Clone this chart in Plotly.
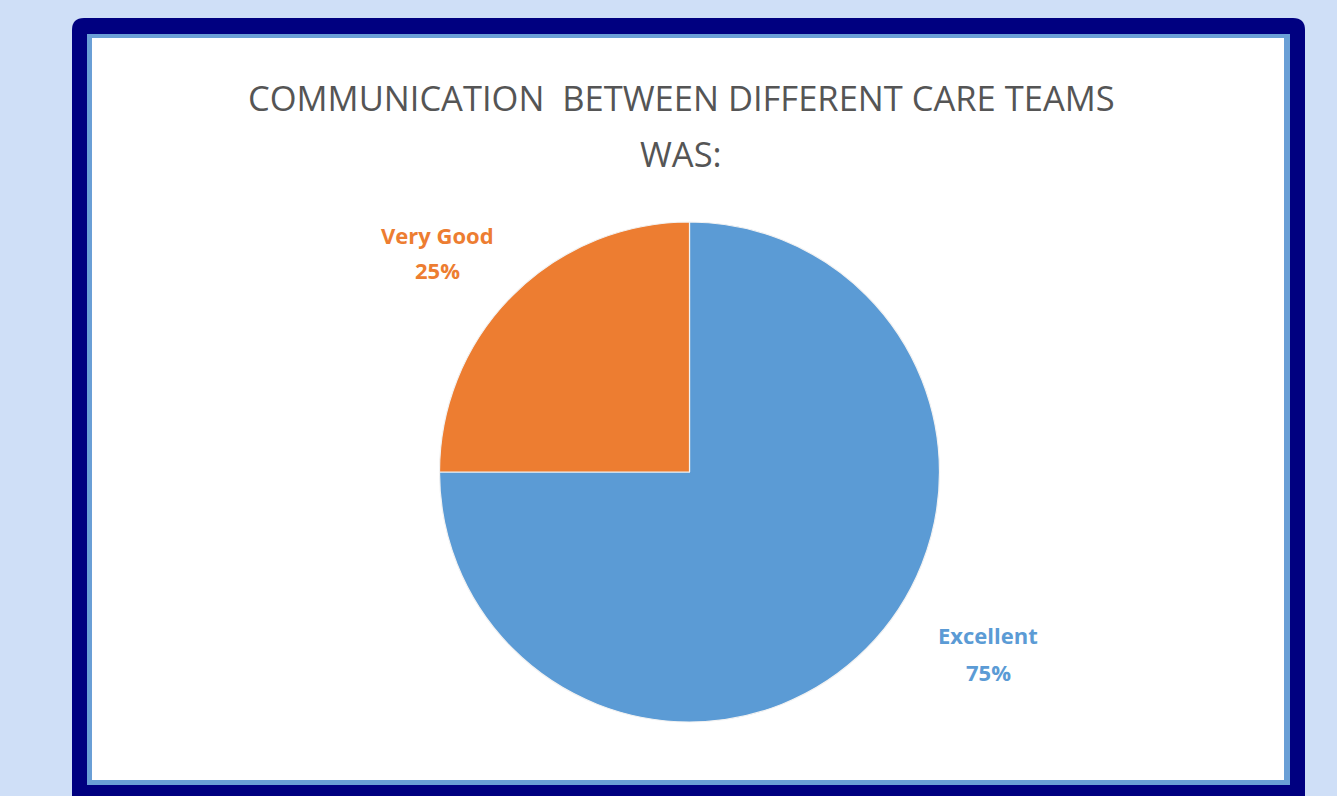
import plotly.graph_objects as go

# ---- data ----
categories = ["Excellent", "Very Good"]
values = [75, 25]
colors = ["#5b9bd5", "#ed7d31"]
title_lines = ["COMMUNICATION  BETWEEN DIFFERENT CARE TEAMS", "WAS:"]

W, H = 1337, 796

def px(x):
    return x / W

def py(y):
    return 1 - y / H

# pie geometry (pixels)
cx, cy, r = 689.5, 472, 250

fig = go.Figure()
fig.add_trace(go.Pie(
    labels=categories,
    values=values,
    sort=False,
    direction="clockwise",
    rotation=0,
    marker=dict(colors=colors, line=dict(color="#f2f2f2", width=1.2)),
    textinfo="none",
    hoverinfo="label+percent",
    showlegend=False,
    domain=dict(x=[px(cx - r), px(cx + r)], y=[py(cy + r), py(cy - r)]),
))

total = sum(values)
pct = [f"{round(v / total * 100)}%" for v in values]

annotations = []
# title lines
for text, yy in zip(title_lines, [97, 153]):
    annotations.append(dict(
        text=text, x=px(681), y=py(yy), xref="paper", yref="paper",
        xanchor="center", yanchor="middle", showarrow=False,
        font=dict(family="Open Sans", size=34.5, color="#555555", weight=500),
    ))

# slice labels
label_pos = {"Excellent": (988, 635, 672), "Very Good": (437, 235, 270)}
for cat, col, p in zip(categories, colors, pct):
    lx, ly1, ly2 = label_pos[cat]
    for text, yy in [(cat, ly1), (p, ly2)]:
        annotations.append(dict(
            text=f"<b>{text}</b>", x=px(lx), y=py(yy), xref="paper", yref="paper",
            xanchor="center", yanchor="middle", showarrow=False,
            font=dict(family="Open Sans", size=22, color=col),
        ))

def rounded_top(x0, y0, x1, y1, rad):
    pts = [
        f"M {px(x0)} {py(y1)}",
        f"L {px(x0)} {py(y0 + rad)}",
        f"Q {px(x0)} {py(y0)} {px(x0 + rad)} {py(y0)}",
        f"L {px(x1 - rad)} {py(y0)}",
        f"Q {px(x1)} {py(y0)} {px(x1)} {py(y0 + rad)}",
        f"L {px(x1)} {py(y1)}",
        "Z",
    ]
    return " ".join(pts)

shapes = [
    dict(type="path", xref="paper", yref="paper", path=rounded_top(72, 18, 1305, 810, 12),
         fillcolor="#000080", line=dict(width=0), layer="below"),
    dict(type="rect", xref="paper", yref="paper", x0=px(87), x1=px(1290), y0=py(785), y1=py(34),
         fillcolor="#6a9fd6", line=dict(width=0), layer="below"),
    dict(type="rect", xref="paper", yref="paper", x0=px(92), x1=px(1284), y0=py(780), y1=py(38),
         fillcolor="#ffffff", line=dict(width=0), layer="below"),
]

fig.update_layout(
    width=W, height=H,
    margin=dict(l=0, r=0, t=0, b=0),
    paper_bgcolor="#cfdff7",
    plot_bgcolor="#cfdff7",
    annotations=annotations,
    shapes=shapes,
)

fig.write_html(
    "out.html",
    config={"displayModeBar": False},
    post_script="document.body.style.margin='0';document.body.style.overflow='hidden';document.body.style.background='#cfdff7';",
)
